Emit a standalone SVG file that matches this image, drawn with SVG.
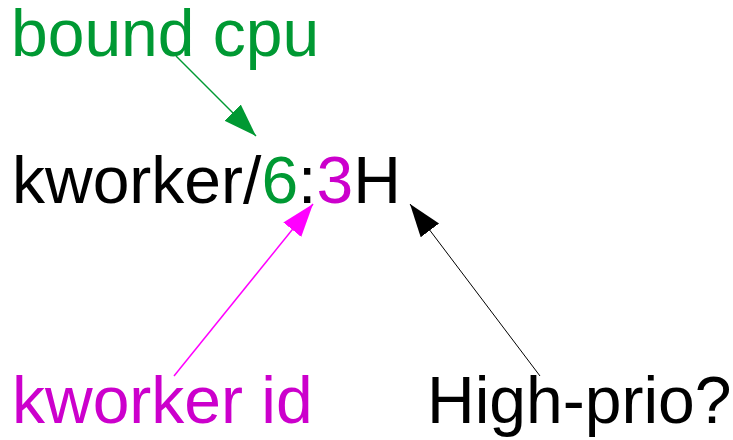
<svg xmlns="http://www.w3.org/2000/svg" width="733" height="440" viewBox="0 0 733 440">
  <style>
    text { font-family: "Liberation Sans", Arial, sans-serif; font-size: 66px; }
    .green { fill: #009933; }
    .mag { fill: #cc00cc; }
    .blk { fill: #000000; }
  </style>
  <defs>
    <marker id="ahG" markerUnits="userSpaceOnUse" markerWidth="34" markerHeight="24" refX="33" refY="11.5" orient="auto">
      <path d="M0,0 L33,11.5 L0,23 z" fill="#009933"/>
    </marker>
    <marker id="ahM" markerUnits="userSpaceOnUse" markerWidth="34" markerHeight="24" refX="33" refY="11.5" orient="auto">
      <path d="M0,0 L33,11.5 L0,23 z" fill="#ff00ff"/>
    </marker>
    <marker id="ahK" markerUnits="userSpaceOnUse" markerWidth="34" markerHeight="24" refX="33" refY="11.5" orient="auto">
      <path d="M0,0 L33,11.5 L0,23 z" fill="#000000"/>
    </marker>
  </defs>
  <rect width="733" height="440" fill="#ffffff"/>
  <g id="connectors">
    <line x1="176" y1="56" x2="256" y2="136" stroke="#009933" stroke-width="1.5" marker-end="url(#ahG)"/>
    <line x1="174" y1="376" x2="313" y2="204" stroke="#ff00ff" stroke-width="1.5" marker-end="url(#ahM)"/>
    <line x1="540" y1="376" x2="410" y2="204" stroke="#000000" stroke-width="1" marker-end="url(#ahK)"/>
  </g>
  <g id="bound-cpu">
    <text x="11" y="56" class="green">bound cpu</text>
  </g>
  <g id="kworker-name">
    <text x="12" y="203" class="blk">kworker/<tspan class="green">6</tspan>:<tspan class="mag">3</tspan>H</text>
  </g>
  <g id="kworker-id">
    <text x="12" y="423" class="mag">kworker id</text>
  </g>
  <g id="high-prio">
    <text x="427" y="423" class="blk">High-prio?</text>
  </g>
</svg>
